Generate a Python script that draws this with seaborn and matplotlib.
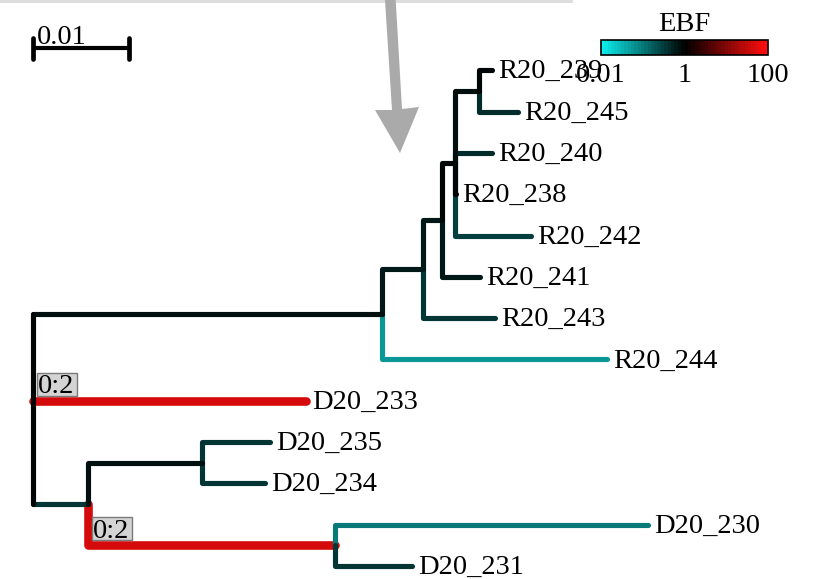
import numpy as np
import pandas as pd
import matplotlib
matplotlib.use("Agg")
import matplotlib.pyplot as plt
import matplotlib.colors as mcolors
import matplotlib.patches as mpatches
import matplotlib.transforms as mtransforms
import matplotlib.ticker as mticker
import seaborn as sns

# ---------------- data ----------------
node_names = ["root", "A", "B", "C", "D", "E", "R20_239", "R20_245", "R20_240",
              "R20_238", "R20_242", "R20_241", "R20_243", "R20_244", "D20_233",
              "F", "G", "D20_235", "D20_234", "H", "D20_230", "D20_231"]
parent_names = [None, "root", "A", "B", "C", "D", "E", "E", "D",
                "D", "D", "C", "B", "A", "root",
                "root", "F", "G", "G", "F", "H", "H"]
branch_lengths = [0.0, 0.03632, 0.00433, 0.00192, 0.00139, 0.00253, 0.00129, 0.00406, 0.00382,
                  0.00015, 0.00792, 0.00399, 0.00747, 0.02344, 0.02844,
                  0.00576, 0.01181, 0.00711, 0.00659, 0.02570, 0.03264, 0.00799]
ebf_values = [0.9, 0.75, 0.6, 0.65, 0.85, 0.7, 0.85, 0.42, 0.42,
              0.9, 0.33, 0.6, 0.36, 0.055, 40.0,
              0.34, 0.8, 0.34, 0.34, 40.0, 0.105, 0.36]
shift_nodes = ["D20_233", "H"]
shift_texts = ["0:2", "0:2"]
ebf_ticks = [0.01, 1, 100]
ebf_tick_labels = ["0.01", "1", "100"]
scale_length = 0.01
scale_label = "0.01"

# ---------------- style ----------------
sns.set_theme(style="white")
plt.rcParams["font.family"] = ["Liberation Serif", "DejaVu Serif"]
plt.rcParams["text.color"] = "black"
FS = 20.5

W, H = 817, 579
fig = plt.figure(figsize=(W / 100, H / 100), dpi=100)
ax = fig.add_axes([0, 0, 1, 1])

# ---------------- layout ----------------
children = {n: [] for n in node_names}
for n, p in zip(node_names, parent_names):
    if p is not None:
        children[p].append(n)
blen = dict(zip(node_names, branch_lengths))
ebf = dict(zip(node_names, ebf_values))
parent = dict(zip(node_names, parent_names))
xpos, ypos = {}, {}
counter = [0]


def layout(n, x):
    xpos[n] = x
    if not children[n]:
        ypos[n] = counter[0]
        counter[0] += 1
    else:
        for c in children[n]:
            layout(c, x + blen[c])
        ypos[n] = (ypos[children[n][0]] + ypos[children[n][-1]]) / 2


layout("root", 0.0)

rows = []
for n in node_names:
    p = parent[n]
    if p is None:
        continue
    if parent[p] is None:
        pts = [(xpos[p], ypos[n]), (xpos[n], ypos[n])]
    else:
        pts = [(xpos[p], ypos[p]), (xpos[p], ypos[n]), (xpos[n], ypos[n])]
    for x, y in pts:
        rows.append(dict(seg=n, x=x, y=y, ebf=ebf[n], kind="thick" if ebf[n] > 10 else "thin"))
# root vertical line, coloured by the root value
root = node_names[0]
for c in (children[root][0], children[root][-1]):
    rows.append(dict(seg=root, x=xpos[root], y=ypos[c], ebf=ebf[root], kind="root"))
df = pd.DataFrame(rows)

cmap = mcolors.LinearSegmentedColormap.from_list(
    "ebf", [(0.05, 0.93, 0.93), (0.0, 0.0, 0.0), (1.0, 0.05, 0.05)], N=50)
norm = mcolors.LogNorm(vmin=0.01, vmax=100)

PX_PER_UNIT = 9600.0
X0_PX = 33.0
LEAF0_PX = 70.3
LEAF_STEP = 41.3
xlim = (-X0_PX / PX_PER_UNIT, (W - X0_PX) / PX_PER_UNIT)
ylim = ((H - LEAF0_PX) / LEAF_STEP, -LEAF0_PX / LEAF_STEP)

common = dict(x="x", y="y", units="seg", estimator=None, sort=False, hue="ebf",
              hue_norm=norm, palette=cmap, legend=False, ax=ax,
              solid_capstyle="round", solid_joinstyle="round")
sns.lineplot(data=df[df.kind == "thick"], lw=6.2, **common)
sns.lineplot(data=df[df.kind == "thin"], lw=3.7, **common)
sns.lineplot(data=df[df.kind == "root"], lw=3.7, **common)

ax.set_xlim(*xlim)
ax.set_ylim(*ylim)
ax.set_axis_off()

# leaf labels
for n in node_names:
    if not children[n]:
        ax.annotate(n, (xpos[n], ypos[n]), xytext=(6, -8), textcoords="offset pixels",
                    ha="left", va="baseline", fontsize=FS, color="black")

# scale bar
sb_y = (48 - LEAF0_PX) / LEAF_STEP
tick_h = 10.5 / LEAF_STEP
ax.plot([0, scale_length], [sb_y, sb_y], color="black", lw=3.0, solid_capstyle="butt")
for xv in [0, scale_length]:
    ax.plot([xv, xv], [sb_y - tick_h, sb_y + tick_h], color="black", lw=3.4,
            solid_capstyle="round")
ax.annotate(scale_label, (0, sb_y), xytext=(4, 4.5), textcoords="offset pixels",
            ha="left", va="baseline", fontsize=FS, color="black")

# shift boxes
ident = mtransforms.IdentityTransform()
for n, t in zip(shift_nodes, shift_texts):
    P = ax.transData.transform((xpos[parent[n]], ypos[n]))
    rect = mpatches.Rectangle((P[0] + 3.5, P[1] + 5), 40, 23, transform=ident,
                              facecolor="#d4d4d4", edgecolor="#7a7a7a", lw=1.0, zorder=5)
    fig.add_artist(rect)
    fig.text(P[0] + 5, P[1] + 7.5, t, transform=ident, ha="left", va="baseline",
             fontsize=FS, color="black", zorder=6)


def px(x, y):
    return (x / W, 1 - y / H)


# top gray bar
fig.add_artist(mpatches.Rectangle(px(0, 3), 573 / W, 3 / H, transform=fig.transFigure,
                                  facecolor="#dddddd", edgecolor="none"))
# gray arrow
arrow_pts = [px(385, 0), px(395.7, 0), px(402, 109), px(419, 107), px(400, 153),
             px(375, 110), px(392, 110)]
fig.add_artist(mpatches.Polygon(arrow_pts, closed=True, transform=fig.transFigure,
                                facecolor="#aaaaaa", edgecolor="none"))

# colorbar
cax = fig.add_axes([601 / W, 1 - 55 / H, 167 / W, 15 / H])
cb = matplotlib.colorbar.ColorbarBase(cax, cmap=cmap, norm=norm, orientation="horizontal",
                                      ticks=ebf_ticks)
cb.set_ticklabels(ebf_tick_labels)
cax.xaxis.set_minor_locator(mticker.NullLocator())
cax.tick_params(axis="x", length=0, pad=5.5, labelsize=FS, labelcolor="black")
cb.outline.set_edgecolor("black")
cb.outline.set_linewidth(1.2)
cax.set_title("EBF", fontsize=FS, pad=6.5, color="black")

fig.savefig("out.png", dpi=100)
